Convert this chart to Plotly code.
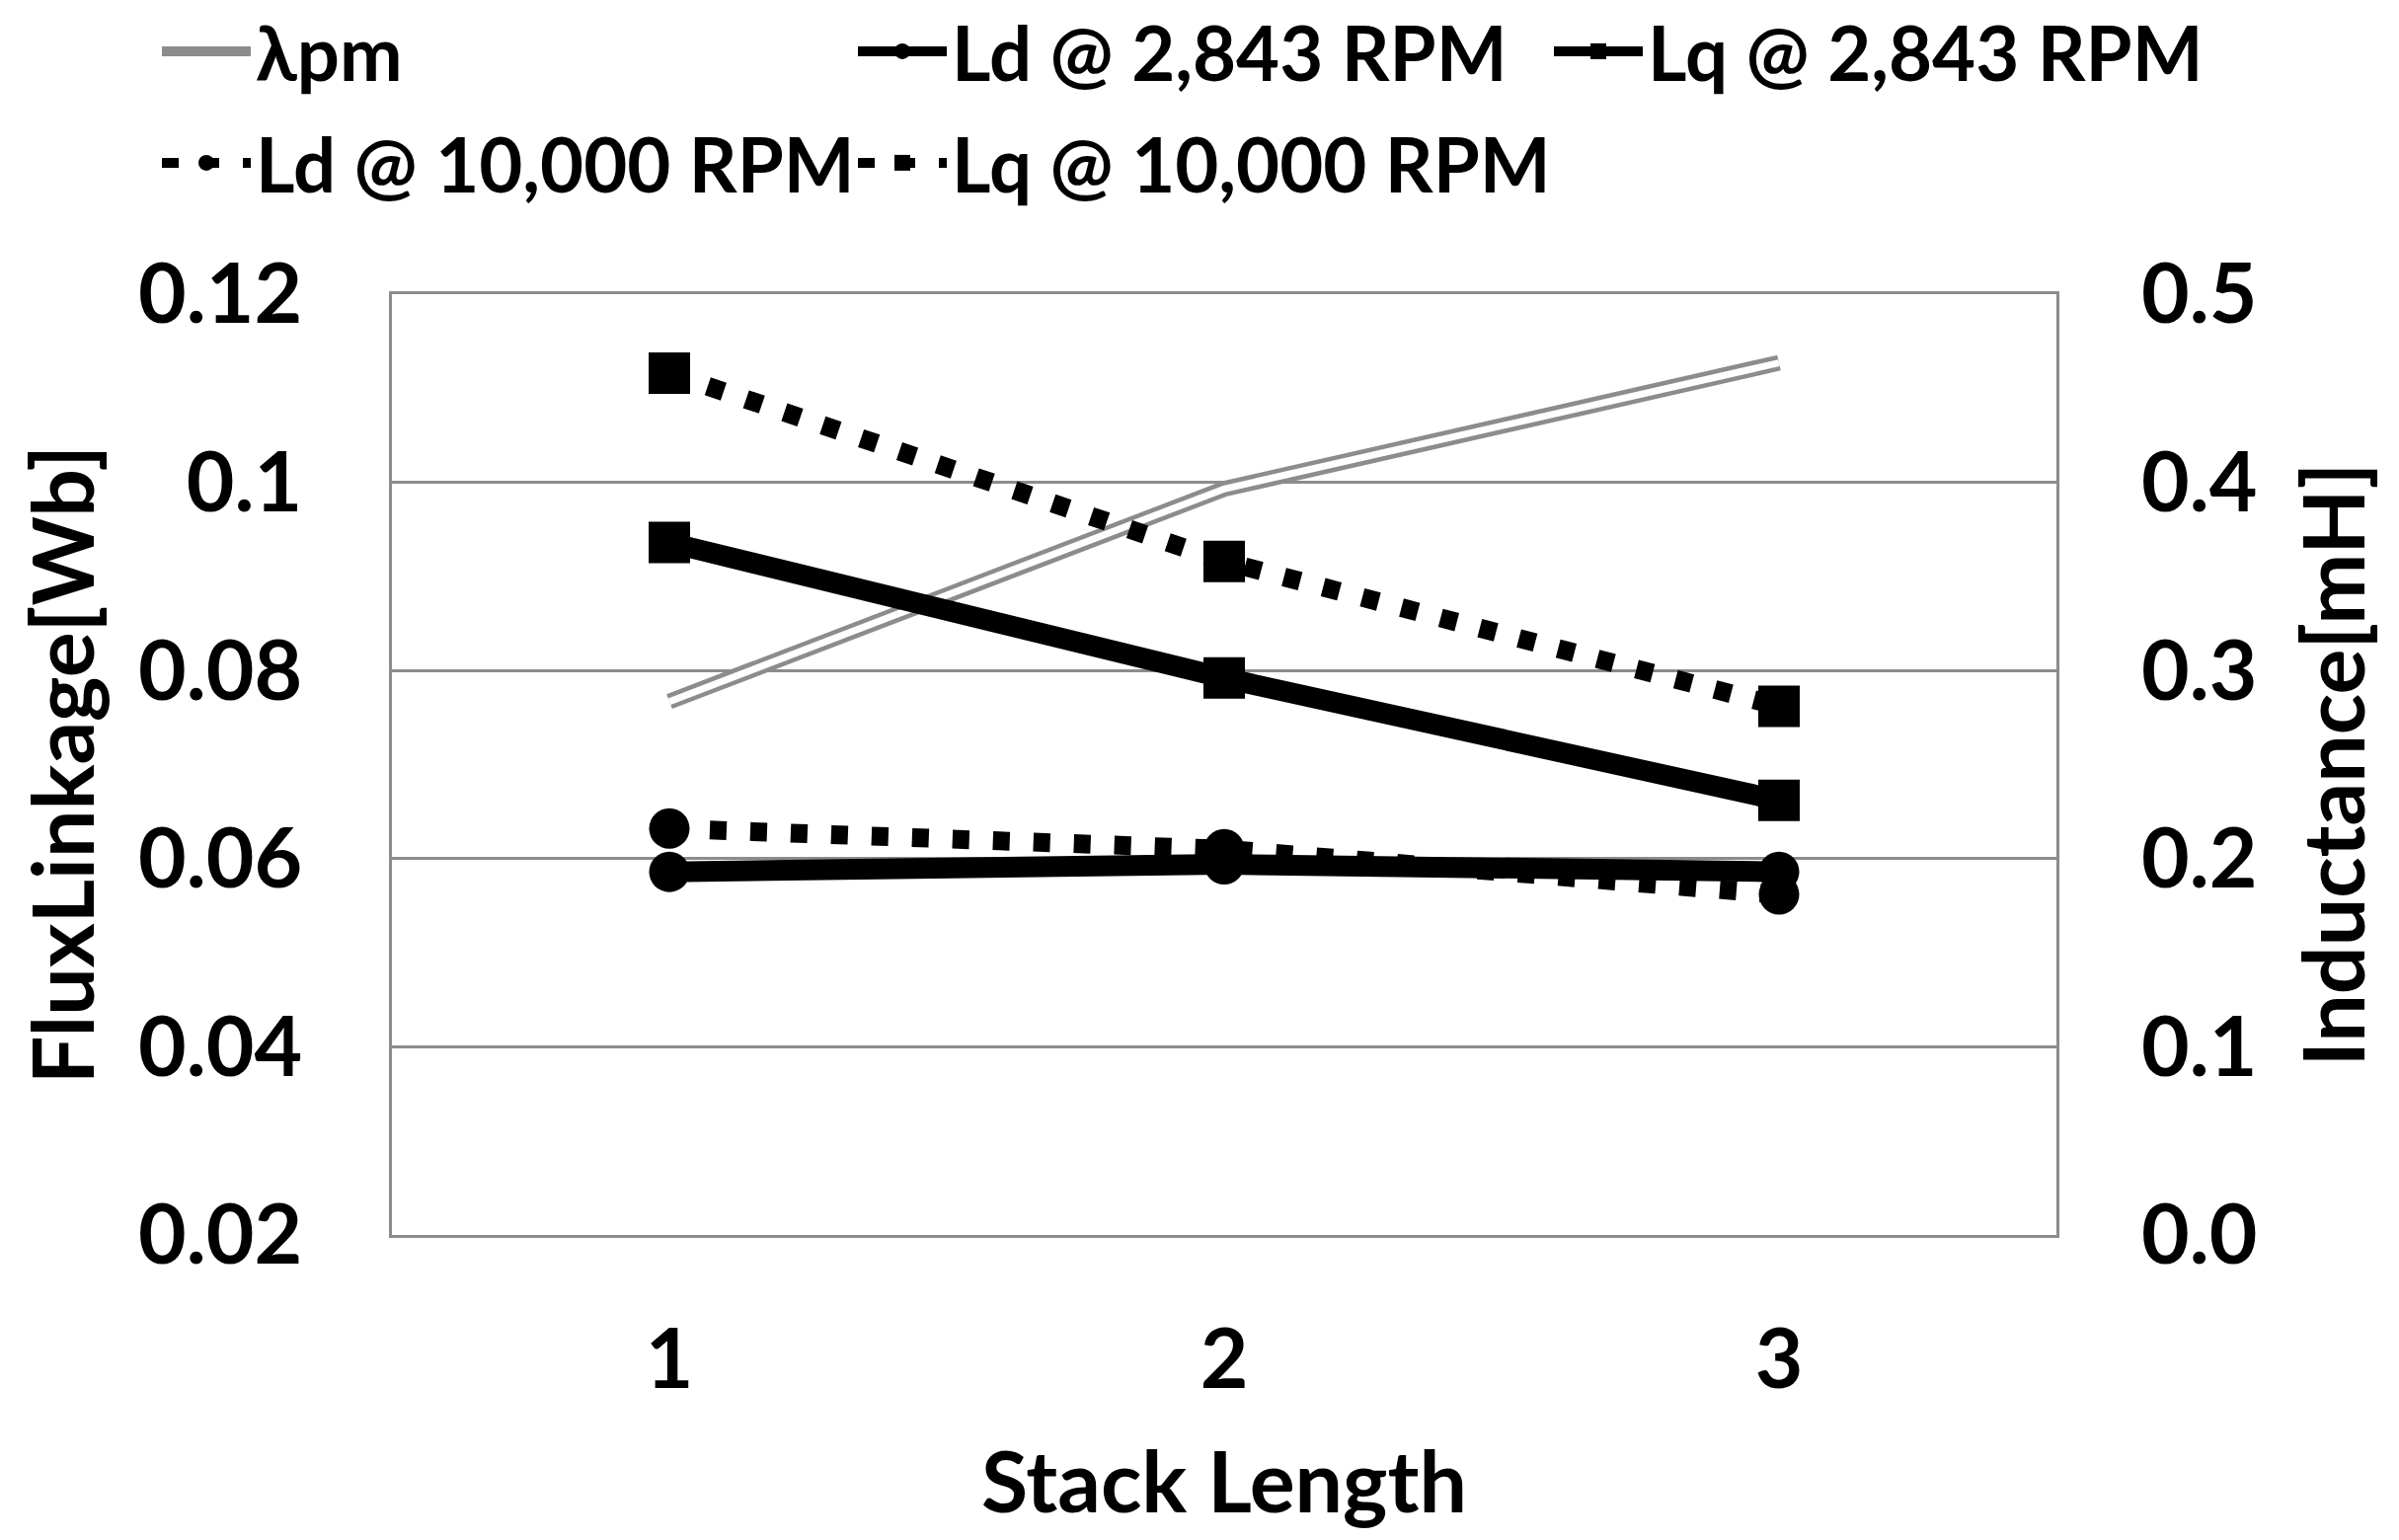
import plotly.graph_objects as go

stack_length = [1, 2, 3]
lambda_pm = [0.0767, 0.0993, 0.1127]
ld_2843 = [0.193, 0.197, 0.193]
lq_2843 = [0.368, 0.296, 0.231]
ld_10000 = [0.216, 0.205, 0.181]
lq_10000 = [0.458, 0.358, 0.281]

left_ticks = [0.02, 0.04, 0.06, 0.08, 0.10, 0.12]
left_ticktext = ["0.02", "0.04", "0.06", "0.08", "0.1", "0.12"]
right_ticks = [0.0, 0.1, 0.2, 0.3, 0.4, 0.5]
right_ticktext = ["0.0", "0.1", "0.2", "0.3", "0.4", "0.5"]
x_ticktext = ["1", "2", "3"]

FONT = "Lato"
GRAY = "#8c8c8c"
W, H = 2430, 1560
OFF = 8  # page body margin
L, R, T, B = 397 - OFF, 2083 - OFF, 298 - OFF, 1251 - OFF
DOT = "17px,24px"

fig = go.Figure()

# lambda_pm: double gray line
fig.add_trace(go.Scatter(x=stack_length, y=lambda_pm, mode="lines", name="λpm",
                         line=dict(color=GRAY, width=16), yaxis="y", legend="legend"))
fig.add_trace(go.Scatter(x=stack_length, y=lambda_pm, mode="lines", showlegend=False,
                         line=dict(color="white", width=7), yaxis="y", hoverinfo="skip"))

fig.add_trace(go.Scatter(x=stack_length, y=ld_2843, mode="lines+markers", name="Ld @ 2,843 RPM",
                         line=dict(color="black", width=21),
                         marker=dict(symbol="circle", size=41, color="black"),
                         yaxis="y2", legend="legend2"))
fig.add_trace(go.Scatter(x=stack_length, y=lq_2843, mode="lines+markers", name="Lq @ 2,843 RPM",
                         line=dict(color="black", width=21),
                         marker=dict(symbol="square", size=42, color="black"),
                         yaxis="y2", legend="legend3"))
fig.add_trace(go.Scatter(x=stack_length, y=ld_10000, mode="lines+markers", name="Ld @ 10,000 RPM",
                         line=dict(color="black", width=19, dash=DOT),
                         marker=dict(symbol="circle", size=41, color="black"),
                         yaxis="y2", legend="legend4"))
fig.add_trace(go.Scatter(x=stack_length, y=lq_10000, mode="lines+markers", name="Lq @ 10,000 RPM",
                         line=dict(color="black", width=19, dash=DOT),
                         marker=dict(symbol="square", size=42, color="black"),
                         yaxis="y2", legend="legend5"))

tick_font = dict(family=FONT, size=84, color="black", weight="bold")
title_font = dict(family=FONT, size=86, color="black", weight="bold")
leg_font = dict(family=FONT, size=76, color="black", weight="bold")

def leg(xpx, ypx):
    return dict(xref="container", yref="container", x=xpx / W, y=1 - ypx / H,
                xanchor="left", yanchor="middle", orientation="h",
                font=leg_font, bgcolor="rgba(0,0,0,0)", borderwidth=0,
                itemwidth=90, tracegroupgap=0)

fig.update_layout(
    width=W, height=H,
    margin=dict(l=L, r=W - R, t=T, b=H - B),
    paper_bgcolor="white", plot_bgcolor="white",
    showlegend=True,
    legend=leg(151, 44),
    legend2=leg(856, 44),
    legend3=leg(1561, 44),
    legend4=leg(151, 157),
    legend5=leg(856, 157),
    xaxis=dict(range=[0.5, 3.5], tickvals=stack_length, ticktext=x_ticktext,
               showgrid=False, zeroline=False, showline=True, linecolor=GRAY, linewidth=3,
               mirror=True, ticks="", tickfont=tick_font, ticklabelstandoff=51,
               title=dict(text="Stack Length", font=title_font, standoff=50)),
    yaxis=dict(range=[0.02, 0.12], tickvals=left_ticks, ticktext=left_ticktext,
               showgrid=True, gridcolor=GRAY, gridwidth=3, zeroline=False,
               showline=True, linecolor=GRAY, linewidth=3, mirror=True, ticks="",
               tickfont=tick_font, ticklabelstandoff=71,
               title=dict(text="FluxLinkage[Wb]", font=title_font, standoff=16)),
    yaxis2=dict(range=[0.0, 0.5], tickvals=right_ticks, ticktext=right_ticktext,
                overlaying="y", side="right", showgrid=False, zeroline=False,
                showline=False, ticks="", tickfont=tick_font, ticklabelstandoff=85,
                title=dict(text="Inductance[mH]", font=title_font, standoff=49)),
)

fig.write_html("out.html")
